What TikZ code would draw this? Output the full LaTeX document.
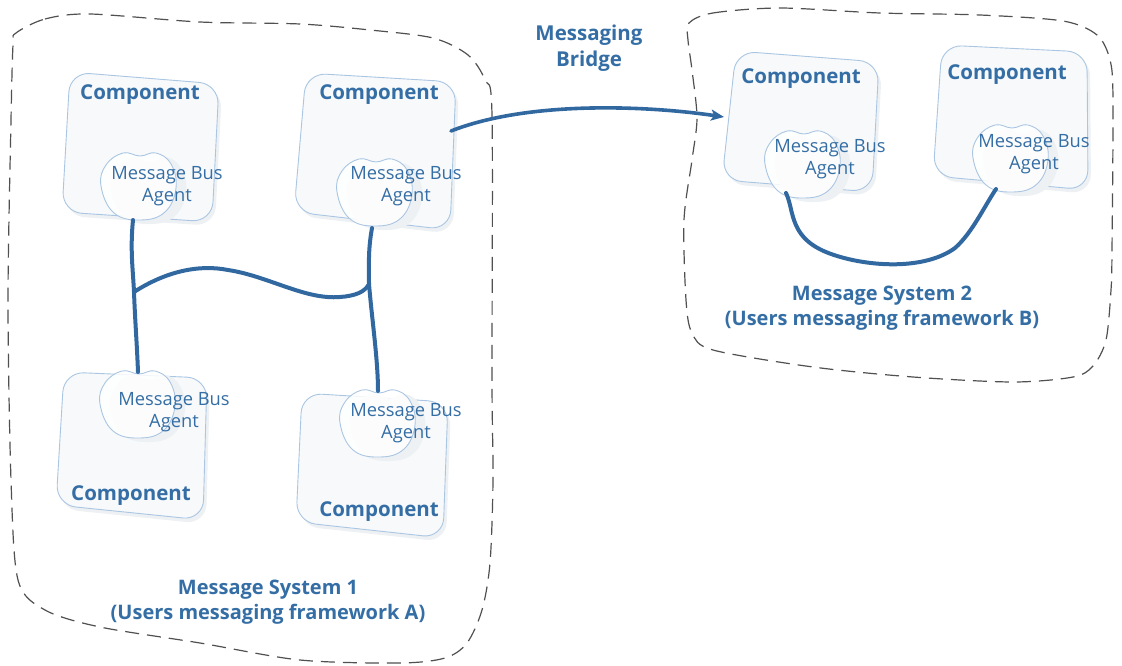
\documentclass[tikz,border=0pt]{standalone}
\usepackage{fontspec}
\setmainfont{Open Sans}
\usetikzlibrary{arrows.meta}
\definecolor{txtblue}{RGB}{52,110,165}
\definecolor{linkblue}{RGB}{50,104,160}
\definecolor{boxedge}{RGB}{170,198,226}
\definecolor{boxfill}{RGB}{247,249,251}
\definecolor{shadowc}{RGB}{238,241,244}
\definecolor{dashc}{RGB}{80,80,80}
\newcommand\mycloud[2]{%
  \begin{scope}[shift={(#1,#2)}]
    \fill[shadowc] plot[smooth cycle,tension=0.7] coordinates {(-27,4) (-21,-18) (-4,-29) (12,-24) (28,-29) (43,-18) (48,6) (37,30) (13,38) (-14,31)};
    \draw[cloudshape] plot[smooth cycle,tension=0.7] coordinates {(-37,0) (-32,-21) (-15,-33) (2,-30) (18,-33) (33,-22) (38,2) (27,26) (3,34) (-24,27)};
  \end{scope}}
\begin{document}
\begin{tikzpicture}[x=1pt,y=-1pt,
  compbox/.style={draw=boxedge,line width=0.9pt,fill=boxfill,rounded corners=20pt},
  compshadow/.style={fill=shadowc,rounded corners=20pt},
  cloudshape/.style={draw=boxedge,line width=0.9pt,fill=white,fill opacity=0.85,draw opacity=1},
  complabel/.style={text=txtblue,font=\bfseries\fontsize{20.5}{24}\selectfont,inner sep=0pt},
  agentlabel/.style={text=txtblue,font=\fontsize{18.3}{22.5}\selectfont,align=center,inner sep=0pt},
  titlelabel/.style={text=txtblue,font=\bfseries\fontsize{20}{24.5}\selectfont,align=center,inner sep=0pt},
  bridgelabel/.style={text=txtblue,font=\bfseries\fontsize{20.5}{26}\selectfont,align=center,inner sep=0pt},
  boundary/.style={draw=dashc,line width=1.2pt,dash pattern=on 14pt off 8pt},
  bus/.style={draw=linkblue,line width=4pt,line cap=round}]
\useasboundingbox (0,0) rectangle (1122,666);
\fill[white] (0,0) rectangle (1122,666);

% boundaries
\draw[boundary] plot[smooth cycle,tension=0.5] coordinates {(16,33) (45,19) (90,14) (200,22) (300,24) (370,30) (433,38) (468,55) (485,80) (492,115) (492,380) (493,480) (490,563) (482,610) (467,643) (445,658) (400,663) (300,660) (200,643) (100,627) (45,610) (18,580) (11,480) (8,300) (11,120) (13,45)};
\draw[boundary] plot[smooth cycle,tension=0.5] coordinates {(689,23) (713,13) (780,8) (880,13) (980,15) (1063,21) (1097,35) (1110,60) (1113,100) (1112,250) (1111,290) (1106,340) (1093,366) (1073,377) (1013,382) (913,377) (813,367) (713,350) (692,333) (686,300) (684,220) (692,160) (697,118) (692,70) (688,40)};

% component shadows
\fill[compshadow] (73,76) -- (222,88) -- (215,226) -- (65,216) -- cycle;
\fill[compshadow] (309,77) -- (459,86) -- (453,234) -- (297,216) -- cycle;
\fill[compshadow] (67,376) -- (210,382) -- (206,524) -- (59,509) -- cycle;
\fill[compshadow] (305,397) -- (451,406) -- (446,542) -- (299,526) -- cycle;
\fill[compshadow] (739,55) -- (882,66) -- (875,196) -- (725,184) -- cycle;
\fill[compshadow] (945,49) -- (1090,56) -- (1091,194) -- (936,180) -- cycle;

% components
\draw[compbox] (70,72) -- (219,84) -- (212,222) -- (62,212) -- cycle;
\draw[compbox] (306,73) -- (456,82) -- (450,230) -- (294,212) -- cycle;
\draw[compbox] (64,372) -- (207,378) -- (203,520) -- (56,505) -- cycle;
\draw[compbox] (302,393) -- (448,402) -- (443,538) -- (296,522) -- cycle;
\draw[compbox] (736,51) -- (879,62) -- (872,192) -- (722,180) -- cycle;
\draw[compbox] (942,45) -- (1087,52) -- (1088,190) -- (933,176) -- cycle;

% clouds
\mycloud{138}{186}
\mycloud{374}{192}
\mycloud{137}{404}
\mycloud{377}{423}
\mycloud{802}{164}
\mycloud{1010}{158}

% labels
\node[complabel] (c1) at (140,95) {Component};
\node[complabel] (c2) at (379,95) {Component};
\node[complabel] (c3) at (131,496) {Component};
\node[complabel] (c4) at (379,512) {Component};
\node[complabel] (c5) at (801,79) {Component};
\node[complabel] (c6) at (1007,75) {Component};

\node[agentlabel] (m1) at (167,186) {Message Bus\\Agent};
\node[agentlabel] (m2) at (406,186) {Message Bus\\Agent};
\node[agentlabel] (m3) at (174,412) {Message Bus\\Agent};
\node[agentlabel] (m4) at (406,423) {Message Bus\\Agent};
\node[agentlabel] (m5) at (830,159) {Message Bus\\Agent};
\node[agentlabel] (m6) at (1034,154) {Message Bus\\Agent};

\node[titlelabel] (t1) at (268,602) {Message System 1\\(Users messaging framework A)};
\node[titlelabel] (t2) at (882,308) {Message System 2\\(Users messaging framework B)};
\node[bridgelabel] (br) at (589,48) {Messaging\\Bridge};

% connector points
\coordinate (a1) at (133,220);
\coordinate (j1) at (134,292);
\coordinate (a3) at (138,372);
\coordinate (a2) at (372,228);
\coordinate (j2) at (369,284);
\coordinate (a4) at (378,391);
\coordinate (w1) at (228,270);
\coordinate (w2) at (340,297);
\coordinate (b0) at (451,131);
\coordinate (b1) at (724,117);
\coordinate (r5) at (786,193);
\coordinate (r6) at (996,189);
\coordinate (rm) at (834,255);
\coordinate (rn) at (955,248);

% connectors
\draw[bus] (a1) .. controls (130,250) and (133,270) .. (j1) .. controls (135,320) and (137,345) .. (a3);
\draw[bus] (a2) .. controls (368,250) and (369,265) .. (j2) .. controls (372,320) and (378,360) .. (a4);
\draw[bus] (j1) .. controls (165,272) and (198,264) .. (w1) .. controls (268,276) and (305,300) .. (w2) .. controls (355,296) and (365,292) .. (j2);
\draw[bus,line width=3.6pt,-{Stealth[length=13pt,width=11pt,inset=3pt]}] (b0) .. controls (530,100) and (650,106) .. (b1);
\draw[bus] (r5) .. controls (795,212) and (788,240) .. (rm) .. controls (870,267) and (925,270) .. (rn) .. controls (972,233) and (984,207) .. (r6);
\end{tikzpicture}
\end{document}
